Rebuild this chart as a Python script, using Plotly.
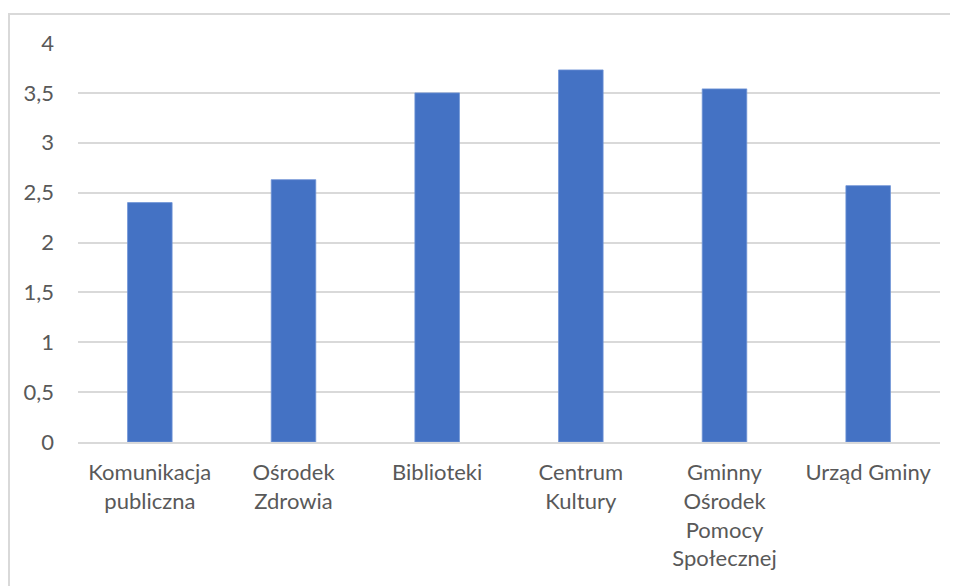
import plotly.graph_objects as go

categories = [
    "Komunikacja<br>publiczna",
    "Ośrodek<br>Zdrowia",
    "Biblioteki",
    "Centrum<br>Kultury",
    "Gminny<br>Ośrodek<br>Pomocy<br>Społecznej",
    "Urząd Gminy",
]
values = [2.40, 2.63, 3.50, 3.73, 3.54, 2.57]
y_ticks = [0, 0.5, 1, 1.5, 2, 2.5, 3, 3.5, 4]
y_tick_labels = ["0", "0,5", "1", "1,5", "2", "2,5", "3", "3,5", "4"]

# page body has an 8px margin, so the figure is sized/offset for that
W, H = 950, 578
L, R, T, B = 70, 18, 35, 144

fig = go.Figure(go.Bar(
    x=categories,
    y=values,
    marker=dict(color="#4472C4", line=dict(color="#6f93d6", width=0.8)),
))

# light gray chart frame (runs off the right and bottom edge like the source)
pw, ph = W - L - R, H - T - B
fig.add_shape(
    type="rect", xref="paper", yref="paper",
    x0=(1 - L) / pw, x1=(W + 20 - L) / pw,
    y0=-(B + 20) / ph, y1=(H - B - 6) / ph,
    line=dict(color="#d9d9d9", width=2), fillcolor="rgba(0,0,0,0)", layer="below",
)

fig.update_layout(
    width=W, height=H,
    margin=dict(l=L, r=R, t=T, b=B),
    paper_bgcolor="white", plot_bgcolor="white",
    bargap=0.69,
    showlegend=False,
    font=dict(family="Lato", size=22, color="#595959"),
)
fig.update_xaxes(
    showgrid=False, showline=True, linecolor="#d9d9d9", linewidth=2,
    ticks="", ticklabelstandoff=10, tickangle=0,
)
fig.update_yaxes(
    range=[0, 4], tickvals=y_ticks, ticktext=y_tick_labels,
    showgrid=True, gridcolor="#d9d9d9", gridwidth=2,
    zeroline=False, showline=False, ticks="", ticklabelstandoff=23,
)

fig.write_html("out.html")
